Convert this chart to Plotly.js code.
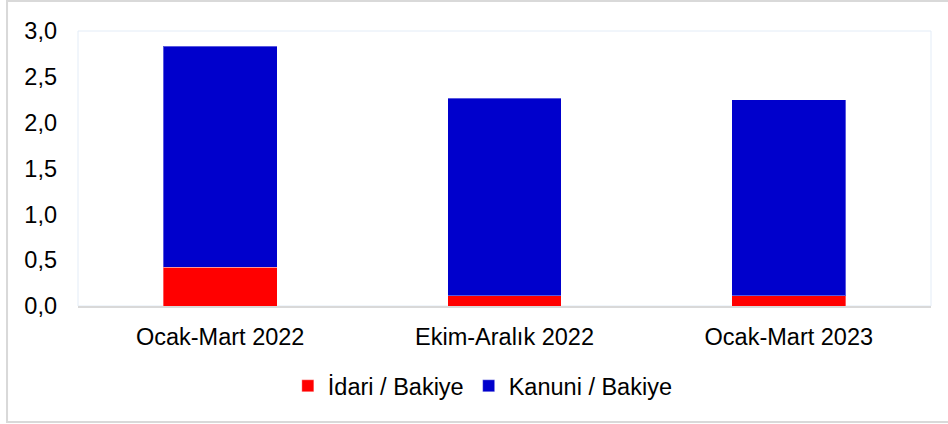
<!DOCTYPE html>
<html>
<head>
<meta charset="utf-8">
<script src="https://cdn.plot.ly/plotly-3.0.1.min.js"></script>
<style>
  body { margin: 0; background: #fff; }
  #chart { width: 948px; height: 424px; }
</style>
</head>
<body>
<div id="chart"></div>
<script>
// dönemler ve seriler
const periods = ["Ocak-Mart 2022", "Ekim-Aralık 2022", "Ocak-Mart 2023"];
const idari = [0.425, 0.11, 0.11];
const kanuni = [2.41, 2.155, 2.14];
const yTicks = [0, 0.5, 1, 1.5, 2, 2.5, 3];

const font = "Liberation Sans, Arial, sans-serif";

const traceIdari = {
  x: periods,
  y: idari,
  type: "bar",
  name: "İdari / Bakiye",
  marker: { color: "#ff0000", line: { color: "rgba(255,255,255,0.35)", width: 1 } },
  hoverinfo: "skip",
};

const traceKanuni = {
  x: periods,
  y: kanuni,
  type: "bar",
  name: "Kanuni / Bakiye",
  marker: { color: "#0000cc", line: { color: "rgba(255,255,255,0.35)", width: 1 } },
  hoverinfo: "skip",
};

const layout = {
  width: 948,
  height: 424,
  barmode: "stack",
  bargap: 0.6,
  separators: ",.",
  font: { family: font, size: 23.5, color: "#000" },
  margin: { l: 78, r: 17, t: 31, b: 118 },
  paper_bgcolor: "#fff",
  plot_bgcolor: "#fff",
  xaxis: {
    type: "category",
    showline: true,
    linecolor: "#d9d9d9",
    linewidth: 2,
    ticks: "",
    ticklabelstandoff: 9,
    tickfont: { size: 23.5 },
  },
  yaxis: {
    range: [0, 3],
    tickvals: yTicks,
    tickformat: ".1f",
    showgrid: false,
    zeroline: false,
    showline: false,
    ticks: "",
    ticklabelstandoff: 20,
    tickfont: { size: 23.5 },
  },
  showlegend: true,
  legend: {
    orientation: "h",
    x: 0.246,
    xanchor: "left",
    y: -0.291,
    yanchor: "middle",
    font: { size: 23.5 },
    traceorder: "normal",
  },
  shapes: [
    {
      type: "rect", xref: "paper", yref: "paper",
      x0: 0, x1: 1, y0: 0, y1: 1,
      line: { color: "#e3ecf7", width: 1 },
      layer: "below",
    },
    {
      type: "rect", xref: "paper", yref: "paper",
      x0: -0.0832, x1: 1.04, y0: -0.4218, y1: 1.109,
      line: { color: "#d9d9d9", width: 2 },
      layer: "below",
    },
  ],
};

Plotly.newPlot("chart", [traceIdari, traceKanuni], layout, { displayModeBar: false, staticPlot: true });
</script>
</body>
</html>
